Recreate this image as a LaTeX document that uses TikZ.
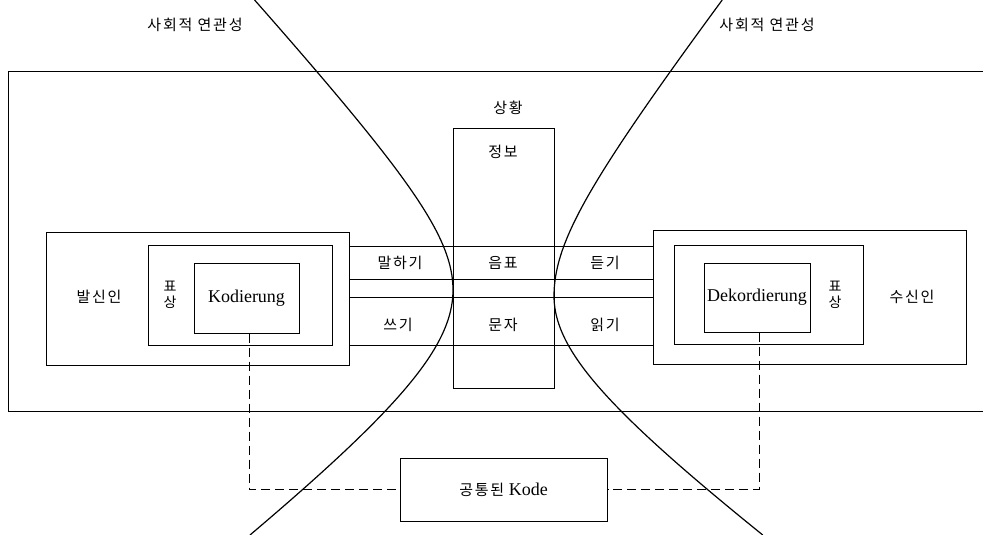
\documentclass[tikz,border=0pt]{standalone}
\usepackage{fontspec}
\setmainfont{Liberation Serif}
\newfontfamily\kr[LetterSpace=12]{Noto Sans CJK KR}
\newfontfamily\krtight{Noto Sans CJK KR}
\begin{document}
\begin{tikzpicture}[x=1pt,y=-1pt,
  frame/.style={draw, line width=1pt, inner sep=0pt, rectangle},
  krtxt/.style={font=\kr\fontsize{15}{17}\selectfont, inner sep=0pt},
  krvert/.style={font=\krtight\fontsize{14}{15.5}\selectfont, inner sep=0pt, align=center},
  lat/.style={font=\fontsize{18}{20}\selectfont},
  conn/.style={line width=1pt},
  dashconn/.style={line width=1pt, dash pattern=on 9pt off 5pt},
  hyper/.style={line width=1.2pt}]
\useasboundingbox (0,0) rectangle (983,535);
% situation frame (open on the right)
\draw[conn] (983,72) -- (8,72) -- (8,411) -- (983,411);
% boxes
\node[frame, minimum width=303, minimum height=133] (sender) at (197.5,298.5) {};
\node[frame, minimum width=184, minimum height=100] (lrep) at (240,295) {};
\node[frame, lat, minimum width=105, minimum height=70] (kod) at (246.5,298) {Kodierung};
\node[frame, minimum width=313, minimum height=134] (receiver) at (809.5,297) {};
\node[frame, minimum width=189, minimum height=99] (rrep) at (768.5,294.5) {};
\node[frame, lat, minimum width=106, minimum height=69] (dek) at (757,297.5) {Dekordierung};
\node[frame, minimum width=101, minimum height=260] (info) at (503.5,258) {};
\node[frame, lat, minimum width=207, minimum height=63] (code) at (503.5,489.5) {{\kr\fontsize{15}{17}\selectfont 공통된}~Kode};
% channel lines
\foreach \yy in {246,279,297.5,345.5}
  \draw[conn] (sender.east |- 0,\yy) -- (receiver.west |- 0,\yy);
% dashed links to the common code
\draw[dashconn] ([xshift=2.5pt]kod.south) |- (code.west);
\draw[dashconn] ([xshift=2pt]dek.south) |- (code.east);
% social relevance curves
\draw[hyper] plot[domain=-290:0, samples=60, variable=\t] ({453-80*(sqrt(1+(\t/87)^2)-1)}, {290+\t})
  -- plot[domain=0:245, samples=60, variable=\t] ({453-150*(sqrt(1+(\t/115)^2)-1)}, {290+\t});
\draw[hyper] plot[domain=-296:0, samples=60, variable=\t] ({554+70*(sqrt(1+(\t/91)^2)-1)}, {296+\t})
  -- plot[domain=0:239, samples=60, variable=\t] ({554+150*(sqrt(1+(\t/110)^2)-1)}, {296+\t});
% labels
\node[krtxt] (soc1) at (195,25) {사회적 연관성};
\node[krtxt] (soc2) at (767,25) {사회적 연관성};
\node[krtxt] (sit) at (508,108) {상황};
\node[krtxt] (infot) at (503,152) {정보};
\node[krtxt] (speak) at (400,263) {말하기};
\node[krtxt] (sound) at (503,263) {음표};
\node[krtxt] (hear) at (605,263) {듣기};
\node[krtxt] (write) at (398,325) {쓰기};
\node[krtxt] (letter) at (503,325) {문자};
\node[krtxt] (read) at (605,325) {읽기};
\node[krtxt] (sendt) at (99,297) {발신인};
\node[krtxt] (rcvt) at (912,297) {수신인};
\node[krvert] (lrept) at (170,295) {표\\상};
\node[krvert] (rrept) at (835,295) {표\\상};
\end{tikzpicture}
\end{document}
